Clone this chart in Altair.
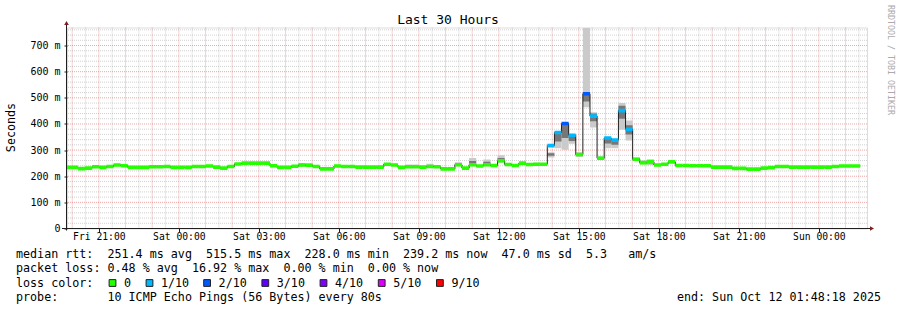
import altair as alt
import pandas as pd

MONO = "DejaVu Sans Mono"

# ---------------- data ----------------
window_start = "2025-10-10 19:48:18"
window_end = "2025-10-12 01:48:18"
first_bucket = "2025-10-10 19:41:00"
bucket_minutes = 16

# median RTT per 16-minute bucket (ms)
median_ms = [
    234, 234, 229, 231, 236, 234, 237, 243, 240, 234,
    234, 234, 236, 236, 237, 234, 234, 234, 237, 237,
    239, 235, 231, 237, 247, 250, 250, 250, 250, 240,
    234, 234, 238, 243, 242, 237, 228, 228, 239, 237,
    237, 235, 235, 235, 235, 246, 243, 234, 236, 236,
    235, 237, 236, 228, 228, 244, 231, 244, 239, 244,
    241, 259, 245, 241, 250, 245, 246, 246, 317, 367,
    402, 357, 283, 515.5, 430, 269, 346, 338, 451, 380,
    265, 252, 255, 243, 246, 255, 241, 241, 240, 240,
    240, 235, 235, 235, 230, 230, 227, 227, 231, 233,
    237, 237, 235, 235, 235, 235, 235, 235, 237, 239,
    239, 239.2,
]

# buckets with packet loss (index, loss in tenths)
loss_idx = [68, 69, 70, 71, 73, 74, 76, 77, 78, 79]
loss_tenths = [1, 1, 2, 1, 2, 1, 1, 1, 1, 1]

# visible smoke (ping spread) per bucket, ms
smoke_idx = [29, 33, 34, 48, 49, 51, 55, 57, 59, 61, 66, 68, 69, 70, 71, 72,
             73, 74, 75, 76, 77, 78, 79, 80, 81, 82]
smoke_lo = [234, 236, 236, 232, 232, 232, 238, 238, 238, 252, 240, 272, 307, 301,
            324, 274, 464, 386, 262, 307, 307, 378, 337, 260, 245, 242]
smoke_hi = [246, 251, 250, 245, 245, 248, 253, 270, 264, 280, 252, 292, 367, 402,
            357, 292, 768, 445, 276, 346, 338, 480, 413, 272, 260, 265]
core_lo = [236, 240, 240, 234, 234, 235, 242, 246, 246, 260, 243, 278, 333, 346,
           335, 278, 486, 410, 265, 325, 320, 420, 360, 262, 248, 250]
core_hi = [240, 244, 244, 238, 238, 241, 247, 258, 255, 270, 247, 288, 365, 398,
           352, 288, 514, 440, 273, 343, 336, 470, 395, 270, 254, 258]

loss_levels = [0, 1, 2, 3, 4, 5, 9]
loss_labels = ["0", "1/10", "2/10", "3/10", "4/10", "5/10", "9/10"]
loss_colors = ["#26ff00", "#00b8ff", "#0059ff", "#5e00ff", "#7e00ff", "#dd00ff", "#ff0000"]

x_label_times = ["2025-10-10 21:00", "2025-10-11 00:00", "2025-10-11 03:00",
                 "2025-10-11 06:00", "2025-10-11 09:00", "2025-10-11 12:00",
                 "2025-10-11 15:00", "2025-10-11 18:00", "2025-10-11 21:00",
                 "2025-10-12 00:00"]
y_tick_values = [0, 100, 200, 300, 400, 500, 600, 700]

title_text = "Last 30 Hours"
y_title = "Seconds"
watermark = "RRDTOOL / TOBI OETIKER"
legend_lines = [
    "median rtt:  251.4 ms avg  515.5 ms max  228.0 ms min  239.2 ms now  47.0 ms sd  5.3   am/s",
    "packet loss: 0.48 % avg  16.92 % max  0.00 % min  0.00 % now",
    "loss color:",
    "probe:       10 ICMP Echo Pings (56 Bytes) every 80s",
]
end_text = "end: Sun Oct 12 01:48:18 2025"

# ---------------- layout / style ----------------
W, H = 800, 201
PAD_L, PAD_T = 67, 27.5
GRID_MINOR = "#9a9a9a"
GRID_MAJOR = "#de4f4f"
AXIS_COL = "#1f1f1f"
ARROW_COL = "#801f1f"


def dt(s):
    t = pd.Timestamp(s)
    return alt.DateTime(year=t.year, month=t.month, date=t.day,
                        hours=t.hour, minutes=t.minute, seconds=t.second)


def nb(s):
    return s.replace(" ", "\u00a0")


x_scale = alt.Scale(domain=[dt(window_start), dt(window_end)], nice=False)
y_scale = alt.Scale(domain=[0, 769], nice=False, zero=False)

x_axis = alt.Axis(values=[dt(s) for s in x_label_times], format="%a %H:%M",
                  labelFont=MONO, labelFontSize=9.7, labelColor="#000000",
                  tickSize=3, tickColor=AXIS_COL, domain=False, grid=False,
                  title=None, labelPadding=0, labelOverlap=False, labelFlush=False)
y_axis = alt.Axis(values=y_tick_values,
                  labelExpr="datum.value == 0 ? '0' : datum.value + '\u00a0m'",
                  labelFont=MONO, labelFontSize=10, labelColor="#000000",
                  tickSize=3, tickColor=AXIS_COL, domain=False, grid=False,
                  title=None, labelPadding=4, labelOverlap=False, labelFlush=False)

# bucket table
t0 = pd.Timestamp(first_bucket)
step = pd.Timedelta(minutes=bucket_minutes)
n = len(median_ms)
starts = [t0 + i * step for i in range(n)]
ends = [s + step for s in starts]
loss_of = {i: l for i, l in zip(loss_idx, loss_tenths)}
color_of = dict(zip(loss_levels, loss_colors))
buckets = pd.DataFrame({
    "t0": starts,
    "t1": ends,
    "v": median_ms,
    "c": [color_of[loss_of.get(i, 0)] for i in range(n)],
})
line_df = pd.DataFrame({"t": starts + [ends[-1]], "v": median_ms + [median_ms[-1]]})
smoke_df = pd.DataFrame({
    "t0": [starts[i] for i in smoke_idx],
    "t1": [ends[i] for i in smoke_idx],
    "lo": smoke_lo, "hi": smoke_hi, "clo": core_lo, "chi": core_hi,
})

# grid tables
minor_v = pd.DataFrame({"t": pd.date_range("2025-10-10 20:30", "2025-10-12 01:30", freq="60min")})
major_v = pd.DataFrame({"t": pd.date_range("2025-10-10 20:00", "2025-10-12 01:00", freq="60min")})
minor_h = pd.DataFrame({"v": [v for v in range(20, 769, 20) if v % 100]})
major_h = pd.DataFrame({"v": list(range(100, 769, 100))})
one = pd.DataFrame({"k": [0]})


def XA(f):
    return alt.X(f, scale=x_scale, axis=x_axis)


def YA(f):
    return alt.Y(f, scale=y_scale, axis=y_axis)


layers = []
layers.append(alt.Chart(minor_v).mark_rule(color=GRID_MINOR, strokeDash=[1, 1], opacity=0.45)
              .encode(x=XA("t:T")))
layers.append(alt.Chart(minor_h).mark_rule(color=GRID_MINOR, strokeDash=[1, 1], opacity=0.45)
              .encode(y=YA("v:Q")))
layers.append(alt.Chart(major_v).mark_rule(color=GRID_MAJOR, strokeDash=[1, 1], opacity=0.5)
              .encode(x=XA("t:T")))
layers.append(alt.Chart(major_h).mark_rule(color=GRID_MAJOR, strokeDash=[1, 1], opacity=0.5)
              .encode(y=YA("v:Q")))

# smoke
layers.append(alt.Chart(smoke_df).mark_rect(color="#cacaca", clip=True)
              .encode(x=XA("t0:T"), x2="t1:T", y=YA("lo:Q"), y2="hi:Q"))
layers.append(alt.Chart(smoke_df).mark_rect(color="#777777", clip=True)
              .encode(x=XA("t0:T"), x2="t1:T", y=YA("clo:Q"), y2="chi:Q"))

# median line
layers.append(alt.Chart(line_df).mark_line(interpolate="step-after", color="#202020",
                                           strokeWidth=1, clip=True)
              .encode(x=XA("t:T"), y=YA("v:Q")))

# loss-coloured median band
layers.append(alt.Chart(buckets).mark_rule(strokeWidth=3.6, strokeCap="butt", clip=True)
              .encode(x=XA("t0:T"), x2="t1:T", y=YA("v:Q"),
                      color=alt.Color("c:N", scale=None)))

# axis lines and arrows
layers.append(alt.Chart(one).mark_rule(color=AXIS_COL, strokeWidth=1)
              .encode(x=alt.value(-0.5), y=alt.value(-3), y2=alt.value(203)))
layers.append(alt.Chart(one).mark_rule(color=AXIS_COL, strokeWidth=1)
              .encode(x=alt.value(-5), x2=alt.value(804), y=alt.value(201)))
layers.append(alt.Chart(one).mark_point(shape="triangle-up", filled=True, color=ARROW_COL,
                                        size=22, opacity=1)
              .encode(x=alt.value(-0.5), y=alt.value(-4.5)))
layers.append(alt.Chart(one).mark_point(shape="triangle-right", filled=True, color=ARROW_COL,
                                        size=22, opacity=1)
              .encode(x=alt.value(805), y=alt.value(201)))


def text(s, x, y, size=11.7, align="left", angle=0, color="#000000"):
    return (alt.Chart(one)
            .mark_text(font=MONO, fontSize=size, align=align, baseline="middle",
                       angle=angle, color=color)
            .encode(x=alt.value(x), y=alt.value(y), text=alt.value(nb(s))))


layers.append(text(title_text, 448 - PAD_L, 19.5 - PAD_T, size=13, align="center"))
layers.append(text(y_title, 11 - PAD_L, 127.5 - PAD_T, angle=270, align="center"))
layers.append(text(watermark, 890 - PAD_L, 60 - PAD_T, size=8.3, angle=90,
                   align="center", color="#aaaaaa"))

line_y = [254.3, 268.3, 282.7, 296.7]
for s, yy in zip(legend_lines, line_y):
    layers.append(text(s, 16 - PAD_L, yy - PAD_T))
layers.append(text(end_text, 881 - PAD_L, line_y[3] - PAD_T, align="right"))

box_left = [109, 146, 203.6, 261.8, 320, 378.2, 436.4]
for bx, col, lab in zip(box_left, loss_colors, loss_labels):
    layers.append(alt.Chart(one).mark_square(size=46, filled=True, stroke="#222222",
                                             strokeWidth=1, opacity=1)
                  .encode(x=alt.value(bx + 3.5 - PAD_L), y=alt.value(283 - PAD_T),
                          color=alt.value(col)))
    layers.append(text(lab, bx + 15 - PAD_L, line_y[2] - PAD_T))

chart = (alt.layer(*layers)
         .properties(width=W, height=H,
                     padding={"left": PAD_L, "top": PAD_T, "right": 897 - PAD_L - W,
                              "bottom": 310 - PAD_T - H},
                     autosize=alt.AutoSizeParams(type="none"))
         .configure_view(stroke=None)
         .configure(background="white"))

chart.save("out.html", embed_options={"renderer": "svg", "actions": False})
